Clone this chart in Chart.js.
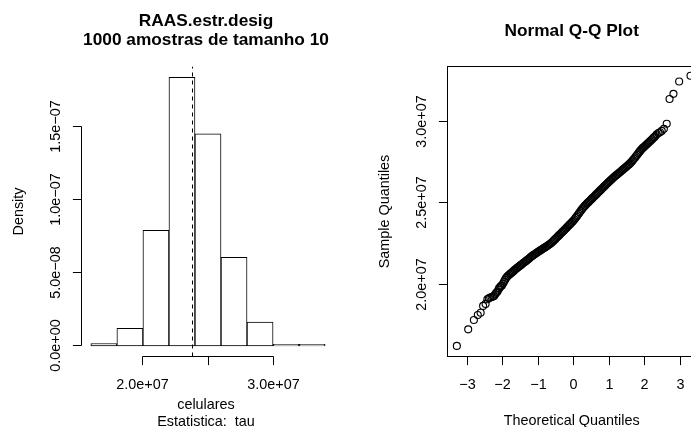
<!DOCTYPE html>
<html>
<head>
  <script src="https://cdnjs.cloudflare.com/ajax/libs/Chart.js/4.4.1/chart.umd.min.js"></script>
  <style>
    html, body {
      margin: 0;
      padding: 0;
      overflow: hidden;
      background: #fff;
    }
    #histChart { position: absolute; left: 0; top: 0; }
    #qqChart { position: absolute; left: 345px; top: 0; }
  </style>
</head>
<body>
  <canvas id="histChart" width="345" height="427"></canvas>
  <canvas id="qqChart" width="360" height="427"></canvas>

  <script>
    // Histogram: bin centres (bins of width 2e6) and densities
    const histMids = [1.7e7, 1.9e7, 2.1e7, 2.3e7, 2.5e7, 2.7e7, 2.9e7, 3.1e7, 3.3e7];
    const histDensity = [1.5e-9, 1.19e-8, 7.9e-8, 1.838e-7, 1.45e-7, 6.05e-8, 1.62e-8, 1.0e-9, 1.0e-9];
    const histMean = 2.381e7;
    const histXTicks = [2.0e7, 2.5e7, 3.0e7];
    const histXLabels = ['2.0e+07', '', '3.0e+07'];
    const histYTicks = [0, 5e-8, 1e-7, 1.5e-7];
    const histYLabels = ['0.0e+00', '5.0e\u221208', '1.0e\u221207', '1.5e\u221207'];

    // Normal Q-Q: theoretical quantiles and sample quantiles
    const qqTheo = [
      -3.29, -2.97, -2.81, -2.70, -2.62, -2.55, -2.48, -2.43, -2.39, -2.35,
      -2.31, -2.27, -2.24, -2.21, -2.18, -2.15, -2.12, -2.10, -2.07, -2.05,
      -2.02, -1.99, -1.96, -1.93, -1.90, -1.87, -1.84, -1.81, -1.78, -1.75,
      -1.72, -1.69, -1.66, -1.63, -1.60, -1.57, -1.54, -1.51, -1.48, -1.45,
      -1.42, -1.39, -1.36, -1.33, -1.30, -1.27, -1.24, -1.21, -1.18, -1.15,
      -1.12, -1.09, -1.06, -1.03, -1.00, -0.97, -0.94, -0.91, -0.88, -0.85,
      -0.82, -0.79, -0.76, -0.73, -0.70, -0.67, -0.64, -0.61, -0.58, -0.55,
      -0.52, -0.49, -0.46, -0.43, -0.40, -0.37, -0.34, -0.31, -0.28, -0.25,
      -0.22, -0.19, -0.16, -0.13, -0.10, -0.07, -0.04, -0.01, 0.02, 0.05,
      0.08, 0.11, 0.14, 0.17, 0.20, 0.23, 0.26, 0.29, 0.32, 0.35,
      0.38, 0.41, 0.44, 0.47, 0.50, 0.53, 0.56, 0.59, 0.62, 0.65,
      0.68, 0.71, 0.74, 0.77, 0.80, 0.83, 0.86, 0.89, 0.92, 0.95,
      0.98, 1.01, 1.04, 1.07, 1.10, 1.13, 1.16, 1.19, 1.22, 1.25,
      1.28, 1.31, 1.34, 1.37, 1.40, 1.43, 1.46, 1.49, 1.52, 1.55,
      1.58, 1.61, 1.64, 1.67, 1.70, 1.73, 1.76, 1.79, 1.82, 1.85,
      1.88, 1.91, 1.94, 1.97, 2.00, 2.03, 2.06, 2.09, 2.12, 2.15,
      2.18, 2.21, 2.24, 2.27, 2.30, 2.34, 2.39, 2.43, 2.48, 2.54,
      2.62, 2.70, 2.81, 2.97, 3.29
    ];
    const qqSample = [
      1.621e7, 1.723e7, 1.780e7, 1.811e7, 1.825e7, 1.867e7, 1.879e7, 1.908e7, 1.914e7, 1.918e7,
      1.921e7, 1.924e7, 1.928e7, 1.938e7, 1.947e7, 1.954e7, 1.966e7, 1.976e7, 1.983e7, 1.988e7,
      1.993e7, 2.004e7, 2.016e7, 2.028e7, 2.039e7, 2.047e7, 2.054e7, 2.060e7, 2.065e7, 2.070e7,
      2.076e7, 2.082e7, 2.088e7, 2.093e7, 2.099e7, 2.104e7, 2.109e7, 2.114e7, 2.119e7, 2.124e7,
      2.130e7, 2.135e7, 2.140e7, 2.145e7, 2.150e7, 2.155e7, 2.161e7, 2.167e7, 2.172e7, 2.177e7,
      2.181e7, 2.186e7, 2.190e7, 2.195e7, 2.199e7, 2.204e7, 2.208e7, 2.212e7, 2.216e7, 2.221e7,
      2.225e7, 2.229e7, 2.233e7, 2.238e7, 2.242e7, 2.247e7, 2.252e7, 2.258e7, 2.264e7, 2.271e7,
      2.277e7, 2.284e7, 2.290e7, 2.297e7, 2.303e7, 2.310e7, 2.316e7, 2.323e7, 2.329e7, 2.336e7,
      2.342e7, 2.349e7, 2.356e7, 2.363e7, 2.369e7, 2.376e7, 2.383e7, 2.390e7, 2.398e7, 2.407e7,
      2.415e7, 2.424e7, 2.433e7, 2.442e7, 2.451e7, 2.460e7, 2.468e7, 2.476e7, 2.483e7, 2.490e7,
      2.497e7, 2.503e7, 2.510e7, 2.516e7, 2.523e7, 2.529e7, 2.536e7, 2.542e7, 2.549e7, 2.555e7,
      2.562e7, 2.568e7, 2.575e7, 2.581e7, 2.588e7, 2.594e7, 2.601e7, 2.607e7, 2.614e7, 2.620e7,
      2.627e7, 2.633e7, 2.639e7, 2.645e7, 2.651e7, 2.657e7, 2.663e7, 2.668e7, 2.674e7, 2.679e7,
      2.685e7, 2.690e7, 2.696e7, 2.701e7, 2.707e7, 2.712e7, 2.718e7, 2.723e7, 2.729e7, 2.735e7,
      2.741e7, 2.748e7, 2.755e7, 2.763e7, 2.771e7, 2.779e7, 2.788e7, 2.796e7, 2.805e7, 2.813e7,
      2.821e7, 2.829e7, 2.836e7, 2.842e7, 2.848e7, 2.854e7, 2.860e7, 2.866e7, 2.872e7, 2.878e7,
      2.885e7, 2.891e7, 2.898e7, 2.904e7, 2.911e7, 2.921e7, 2.929e7, 2.934e7, 2.942e7, 2.955e7,
      2.986e7, 3.138e7, 3.170e7, 3.246e7, 3.281e7
    ];
    const qqXTicks = [-3, -2, -1, 0, 1, 2, 3];
    const qqXLabels = ['\u22123', '\u22122', '\u22121', '0', '1', '2', '3'];
    const qqYTicks = [2.0e7, 2.5e7, 3.0e7];
    const qqYLabels = ['2.0e+07', '2.5e+07', '3.0e+07'];

    const FONT = '"Liberation Sans", Arial, Helvetica, sans-serif';
    const TICK_LEN = 8.6;

    const crisp = v => Math.round(v - 0.5) + 0.5;

    function vText(ctx, s, x, y) {
      ctx.save();
      ctx.translate(x, y);
      ctx.rotate(-Math.PI / 2);
      ctx.textAlign = 'center';
      ctx.textBaseline = 'alphabetic';
      ctx.fillText(s, 0, 0);
      ctx.restore();
    }

    // R style axis below the plot: line from first to last tick
    function axisBottom(ctx, scale, y, ticks, labels) {
      const xs = ticks.map(t => crisp(scale.getPixelForValue(t)));
      ctx.beginPath();
      ctx.moveTo(xs[0], y);
      ctx.lineTo(xs[xs.length - 1], y);
      xs.forEach(x => { ctx.moveTo(x, y); ctx.lineTo(x, y + TICK_LEN); });
      ctx.stroke();
      ctx.font = '14.4px ' + FONT;
      ctx.textAlign = 'center';
      ctx.textBaseline = 'alphabetic';
      xs.forEach((x, i) => { if (labels[i]) ctx.fillText(labels[i], x, y + 32.8); });
    }

    function axisLeft(ctx, scale, x, ticks, labels) {
      const ys = ticks.map(t => crisp(scale.getPixelForValue(t)));
      ctx.beginPath();
      ctx.moveTo(x, ys[0]);
      ctx.lineTo(x, ys[ys.length - 1]);
      ys.forEach(y => { ctx.moveTo(x, y); ctx.lineTo(x - TICK_LEN, y); });
      ctx.stroke();
      ctx.font = '14.4px ' + FONT;
      ys.forEach((y, i) => { if (labels[i]) vText(ctx, labels[i], x - 21.5, y); });
    }

    const histPlugin = {
      id: 'histAxes',
      afterDraw(chart) {
        const ctx = chart.ctx;
        const a = chart.chartArea;
        ctx.save();
        ctx.strokeStyle = '#000';
        ctx.fillStyle = '#000';
        ctx.lineWidth = 1;
        axisBottom(ctx, chart.scales.x, a.bottom, histXTicks, histXLabels);
        axisLeft(ctx, chart.scales.y, a.left, histYTicks, histYLabels);

        const cx = (a.left + a.right) / 2 - 2;
        ctx.textAlign = 'center';
        ctx.font = 'bold 17.3px ' + FONT;
        ctx.fillText('RAAS.estr.desig', cx, 25.7);
        ctx.fillText('1000 amostras de tamanho 10', cx, 45.3);
        ctx.font = '14.4px ' + FONT;
        ctx.fillText('celulares', cx, a.bottom + 52.2);
        ctx.fillText('Estatistica:  tau', cx, a.bottom + 69);
        vText(ctx, 'Density', a.left - 58.6, (a.top + a.bottom) / 2);
        ctx.restore();
      }
    };

    const qqPlugin = {
      id: 'qqAxes',
      afterDraw(chart) {
        const ctx = chart.ctx;
        const a = chart.chartArea;
        ctx.save();
        ctx.strokeStyle = '#000';
        ctx.fillStyle = '#000';
        ctx.lineWidth = 1;
        ctx.strokeRect(a.left, a.top, a.right - a.left, a.bottom - a.top);
        axisBottom(ctx, chart.scales.x, a.bottom, qqXTicks, qqXLabels);
        axisLeft(ctx, chart.scales.y, a.left, qqYTicks, qqYLabels);

        const cx = (a.left + a.right) / 2 - 2;
        ctx.textAlign = 'center';
        ctx.font = 'bold 17.3px ' + FONT;
        ctx.fillText('Normal Q-Q Plot', cx, 35.6);
        ctx.font = '14.4px ' + FONT;
        ctx.fillText('Theoretical Quantiles', cx, a.bottom + 68);
        vText(ctx, 'Sample Quantiles', a.left - 58.6, (a.top + a.bottom) / 2);
        ctx.restore();
      }
    };

    const histYMin = -7.3e-9;
    const histYMax = 1.9116e-7;

    // Histogram, with the dashed mean line drawn over the bars
    new Chart(document.getElementById('histChart'), {
      type: 'bar',
      data: {
        datasets: [{
          order: 2,
          data: histMids.map((m, i) => ({ x: m, y: histDensity[i] })),
          backgroundColor: '#fff',
          borderColor: '#000',
          borderWidth: 1,
          borderSkipped: false,
          barPercentage: 1,
          categoryPercentage: 1
        }, {
          order: 1,
          type: 'line',
          data: [{ x: histMean, y: histYMin }, { x: histMean, y: histYMax }],
          borderColor: '#000',
          borderWidth: 1,
          borderDash: [4, 4],
          pointRadius: 0,
          fill: false
        }]
      },
      options: {
        responsive: false,
        animation: false,
        events: [],
        layout: { padding: { left: 81.5, right: 10.5, top: 66.5, bottom: 70.5 } },
        plugins: { legend: { display: false }, tooltip: { enabled: false } },
        scales: {
          x: {
            type: 'linear', display: false, offset: false,
            min: 1.528e7, max: 3.472e7,
            afterBuildTicks: s => { s.ticks = histXTicks.map(v => ({ value: v })); }
          },
          y: { type: 'linear', display: false, min: histYMin, max: histYMax }
        }
      },
      plugins: [histPlugin]
    });

    // Normal Q-Q plot
    new Chart(document.getElementById('qqChart'), {
      type: 'scatter',
      data: {
        datasets: [{
          data: qqTheo.map((t, i) => ({ x: t, y: qqSample[i] })),
          pointRadius: 3.5,
          pointBorderWidth: 1.15,
          pointBorderColor: '#000',
          pointBackgroundColor: 'rgba(0,0,0,0)'
        }]
      },
      options: {
        responsive: false,
        animation: false,
        events: [],
        layout: { padding: { left: 102.5, right: 4.5, top: 66.5, bottom: 70.5 } },
        plugins: { legend: { display: false }, tooltip: { enabled: false } },
        scales: {
          x: { type: 'linear', display: false, min: -3.553, max: 3.553 },
          y: { type: 'linear', display: false, min: 1.556e7, max: 3.338e7 }
        }
      },
      plugins: [qqPlugin]
    });
  </script>
</body>
</html>
